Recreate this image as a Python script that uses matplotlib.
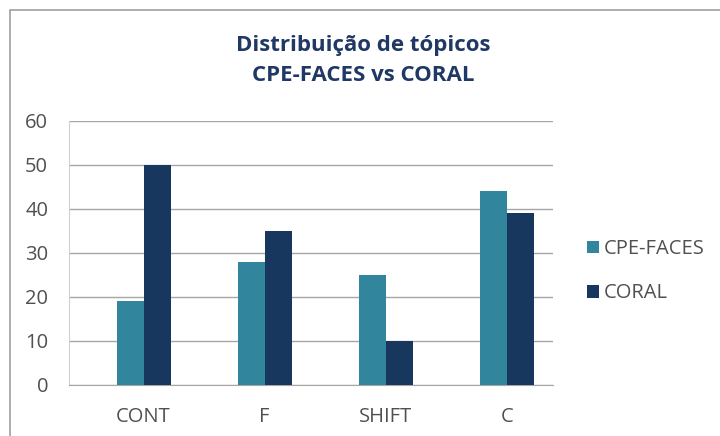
import matplotlib.pyplot as plt
import matplotlib.patches as mpatches
import numpy as np

categories = ['CONT', 'F', 'SHIFT', 'C']
cpe_faces = [19, 28, 25, 44]
coral = [50, 35, 10, 39]
yticks = [0, 10, 20, 30, 40, 50, 60]

plt.rcParams['font.family'] = ['Open Sans', 'DejaVu Sans']

teal = '#31859c'
navy = '#17375e'
text_col = '#505050'

fig = plt.figure(figsize=(7.2, 4.36), dpi=100)
ax = fig.add_axes([0.0958, 0.117, 0.672, 0.6055])

x = np.arange(len(categories))
width = 0.223
ax.bar(x - width/2, cpe_faces, width, label='CPE-FACES', color=teal, zorder=3)
ax.bar(x + width/2, coral, width, label='CORAL', color=navy, zorder=3)

ax.set_xlim(-0.616, 3.38)
ax.set_ylim(0, 60)
ax.set_yticks(yticks)
ax.set_xticks(x)
ax.set_xticklabels(categories)
ax.tick_params(axis='both', length=0, labelsize=14.5, colors=text_col)
ax.tick_params(axis='y', pad=15)
ax.tick_params(axis='x', pad=16)
ax.grid(axis='y', color='#a6a6a6', linewidth=1, zorder=0)
for s in ['top', 'right']:
    ax.spines[s].set_visible(False)
ax.spines['left'].set_color('#d0d0d0')
ax.spines['bottom'].set_color('#a6a6a6')

fig.text(0.504, 0.895, 'Distribuição de tópicos', ha='center', va='center',
         fontsize=16, fontweight='bold', color='#1f3864')
fig.text(0.504, 0.826, 'CPE-FACES vs CORAL', ha='center', va='center',
         fontsize=16, fontweight='bold', color='#1f3864')

fig.legend(loc='center left', bbox_to_anchor=(0.79, 0.378), frameon=False,
           fontsize=14.5, labelcolor=text_col, handlelength=0.6, handleheight=0.6,
           handletextpad=0.25, labelspacing=1.2)

# outer chart border
fig.patches.append(mpatches.Rectangle((0.014, -0.1), 1.2, 1.077, transform=fig.transFigure,
                                      fill=False, edgecolor='#a0a0a0', linewidth=1.2))

fig.savefig('out.png', dpi=100)
